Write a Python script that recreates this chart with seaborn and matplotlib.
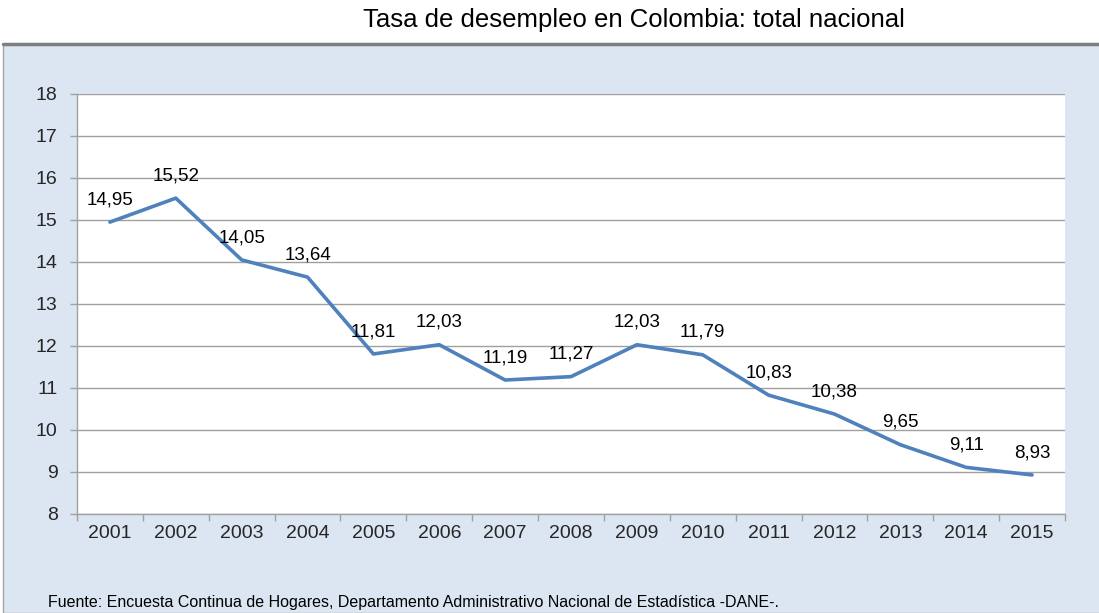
import matplotlib.pyplot as plt
import seaborn as sns
import pandas as pd
import numpy as np
from matplotlib.patches import Rectangle
from matplotlib.lines import Line2D

# datos
anios = ['2001', '2002', '2003', '2004', '2005', '2006', '2007', '2008',
         '2009', '2010', '2011', '2012', '2013', '2014', '2015']
tasa = [14.95, 15.52, 14.05, 13.64, 11.81, 12.03, 11.19, 11.27,
        12.03, 11.79, 10.83, 10.38, 9.65, 9.11, 8.93]
etiquetas = ['14,95', '15,52', '14,05', '13,64', '11,81', '12,03', '11,19', '11,27',
             '12,03', '11,79', '10,83', '10,38', '9,65', '9,11', '8,93']

df = pd.DataFrame({'Año': anios, 'Tasa': tasa})

sns.set_theme(style='white')
plt.rcParams['font.family'] = ['Liberation Sans', 'DejaVu Sans']

fig = plt.figure(figsize=(10.99, 6.13), dpi=100)
fig.patch.set_facecolor('white')

# panel azul claro de fondo
fig.patches.append(Rectangle((3 / 1099, 0), 1, (613 - 44) / 613, transform=fig.transFigure,
                             facecolor='#dce6f2', edgecolor='#a6a6a6', linewidth=1, zorder=-10))
fig.lines.append(Line2D([3 / 1099, 1], [(613 - 44) / 613] * 2, transform=fig.transFigure,
                        color='#7f7f7f', linewidth=2.5, zorder=-9))

ax = fig.add_axes([77 / 1099, (613 - 514) / 613, (1065 - 77) / 1099, (514 - 94) / 613])
ax.set_facecolor('white')

sns.lineplot(x='Año', y='Tasa', data=df, color='#4f81bd', linewidth=2.6, ax=ax, sort=False)

x = np.arange(len(anios))
for xi, yi, lab in zip(x, tasa, etiquetas):
    ax.annotate(lab, (xi, yi), xytext=(0, 10), textcoords='offset points',
                ha='center', va='bottom', fontsize=13.5, color='black')

ax.set_xlim(-0.5, len(anios) - 0.5)
ax.set_ylim(8, 18)
ax.set_yticks(range(8, 19))
ax.yaxis.grid(True, color='#a0a0a0', linewidth=1)
ax.set_axisbelow(True)
ax.set_xlabel('')
ax.set_ylabel('')

ax.set_xticks(x)
ax.set_xticklabels(anios, fontsize=14)
ax.set_xticks(np.arange(-0.5, len(anios)), minor=True)
ax.tick_params(axis='x', which='major', length=0, pad=8)
ax.tick_params(axis='x', which='minor', length=5, color='#a0a0a0', width=1, bottom=True)
ax.tick_params(axis='y', length=5, color='#a0a0a0', width=1, left=True, labelsize=14, pad=9)

for s in ['top', 'right']:
    ax.spines[s].set_visible(False)
for s in ['left', 'bottom']:
    ax.spines[s].set_color('#a0a0a0')
    ax.spines[s].set_linewidth(1)

fig.text(0.577, 1 - 20 / 613, 'Tasa de desempleo en Colombia: total nacional',
         ha='center', va='center', fontsize=18.5, color='black')
fig.text(48 / 1099, 1 - 603 / 613,
         'Fuente: Encuesta Continua de Hogares, Departamento Administrativo Nacional de Estadística -DANE-.',
         ha='left', va='center', fontsize=11.5, color='black')

fig.savefig('out.png', dpi=100)
